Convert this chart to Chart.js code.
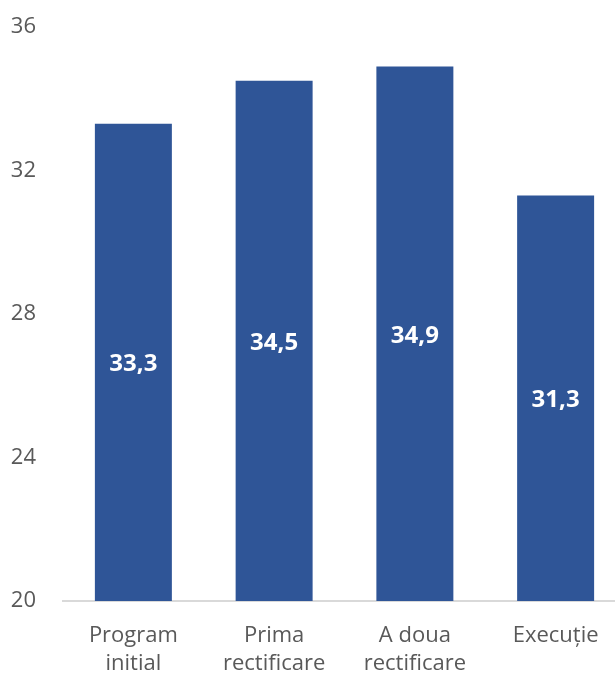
<!DOCTYPE html>
<html>
<head>
<meta charset="utf-8">
<script src="https://cdn.jsdelivr.net/npm/chart.js@4/dist/chart.umd.min.js"></script>
<style>
  html, body { margin: 0; padding: 0; background: #ffffff; overflow: hidden; }
  #wrap { width: 626px; height: 677px; }
</style>
</head>
<body>
<div id="wrap"><canvas id="c" width="626" height="677"></canvas></div>
<script>
// Budget figures per stage
const categories = [["Program", "initial"], ["Prima", "rectificare"], ["A doua", "rectificare"], ["Execuție"]];
const values = [33.3, 34.5, 34.9, 31.3];
const yTicks = [20, 24, 28, 32, 36];

const FONT = "'Open Sans', sans-serif";
const GREY = "#595959";

// Writes each bar's value in the middle of its visible part, with a decimal comma
const barValueLabels = {
  id: "barValueLabels",
  afterDatasetsDraw(chart) {
    const ctx = chart.ctx;
    const yScale = chart.scales.y;
    const floor = yScale.getPixelForValue(yScale.min);
    const meta = chart.getDatasetMeta(0);
    ctx.save();
    ctx.fillStyle = "#ffffff";
    ctx.font = "bold 24px 'Open Sans', sans-serif";
    ctx.textAlign = "center";
    ctx.textBaseline = "middle";
    meta.data.forEach((bar, i) => {
      ctx.fillText(String(values[i]).replace(".", ","), bar.x, (bar.y + floor) / 2 + 2);
    });
    ctx.restore();
  }
};

new Chart(document.getElementById("c"), {
  type: "bar",
  data: {
    labels: categories,
    datasets: [{
      data: values,
      backgroundColor: "#2F5597",
      borderWidth: 0,
      categoryPercentage: 1,
      barPercentage: 0.547
    }]
  },
  options: {
    responsive: false,
    animation: false,
    layout: { padding: { top: 27, left: 0, right: 0, bottom: 0 } },
    plugins: { legend: { display: false }, tooltip: { enabled: false } },
    scales: {
      y: {
        min: 20, max: 36,
        afterBuildTicks(scale) { scale.ticks = yTicks.map(v => ({ value: v })); },
        afterFit(scale) { scale.width = 63; scale.paddingTop = 0; scale.paddingBottom = 0; },
        grid: { display: false },
        border: { display: false },
        ticks: { color: GREY, font: { family: FONT, size: 22 }, padding: 19 }
      },
      x: {
        afterFit(scale) { scale.height = 76; },
        grid: { display: false },
        border: { display: true, color: "#d9d9d9", width: 2 },
        ticks: { color: GREY, font: { family: FONT, size: 22, lineHeight: 1.27 }, padding: 13, maxRotation: 0 }
      }
    }
  },
  plugins: [barValueLabels]
});
</script>
</body>
</html>
